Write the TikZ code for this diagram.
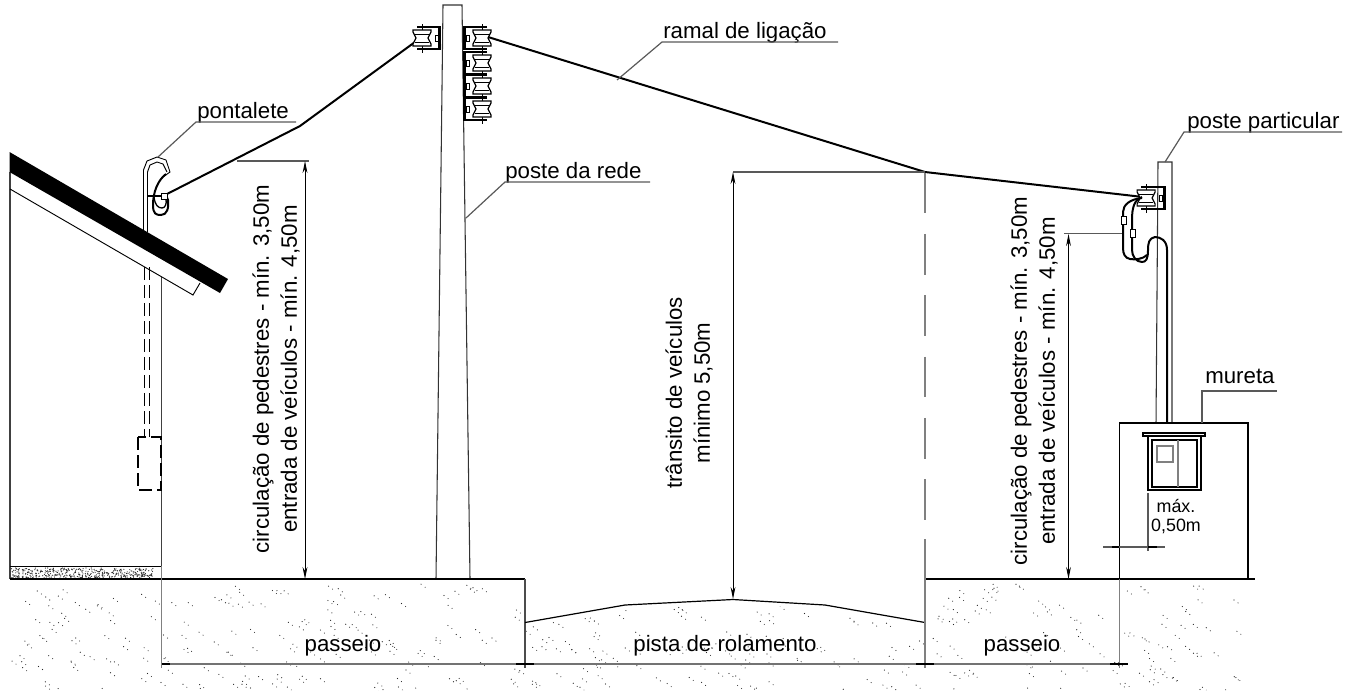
\documentclass[tikz,border=0pt]{standalone}
\usepackage{fontspec}
\setmainfont{Liberation Sans}
\usetikzlibrary{arrows.meta}
\tikzset{
  wire/.style={line width=1.5pt,line join=round},
  thin line/.style={line width=0.9pt,black!65},
  dim/.style={line width=0.7pt,{Stealth[length=9pt,width=3.6pt]}-{Stealth[length=9pt,width=3.6pt]}},
  lbl/.style={font=\fontsize{16.7pt}{20pt}\selectfont,inner sep=0pt},
  dimlbl/.style={lbl,rotate=90,align=center},
  small lbl/.style={font=\fontsize{13.4pt}{16pt}\selectfont,inner sep=0pt},
  spool/.pic={
    \draw [line width=0.7pt] (0,-13) -- (0,16);
    \draw [line width=0.9pt] (-5,-10) -- (17,-10) -- (17,12) -- (-5,12);
    \draw [line width=2.2pt] (18,-11) -- (18,13);
    \draw [line width=0.7pt] (13,-2) rectangle (16,4);
    \draw [line width=0.9pt,fill=white] (-9,-7) -- (9,-7) -- (9,-5) -- (6,1) -- (9,7) -- (9,9) -- (-9,9) -- (-9,7) -- (-6,1) -- (-9,-5) -- cycle;
    \draw [line width=0.6pt] (-7,-3) -- (7,-3) (-7,5) -- (7,5);
  },
  tick/.style={line width=2pt},
}
\begin{document}
\begin{tikzpicture}[x=0.75pt,y=-0.75pt]
  \useasboundingbox (0,0) rectangle (1358,690);
  % ground stipple
  \pgfmathsetseed{41}
  \begin{scope}
    \clip (10,582) -- (525,582) -- (525,626) -- (625,609) -- (733,604) -- (825,609) -- (925,626) -- (925,582) -- (1358,582) -- (1358,690) -- (10,690) -- cycle;
    \foreach \i in {1,...,430} {
      \pgfmathsetmacro{\px}{12+rnd*1225}
      \pgfmathsetmacro{\py}{584+rnd*106}
      \fill [black!85] (\px,\py) circle [radius=0.45pt];
      \fill [black!85] (\px+4,\py+3) circle [radius=0.4pt];
    }
  \end{scope}
  \foreach \i in {1,...,420} {
    \pgfmathsetmacro{\px}{11+rnd*142}
    \pgfmathsetmacro{\py}{568+rnd*10}
    \fill [black!85] (\px,\py) circle [radius=0.45pt];
  }
  % house
  \draw [line width=0.8pt,black!75] (10,172) -- (10,579);
  \draw [line width=0.8pt,black!75] (161.5,277) -- (161.5,566);
  \draw [line width=0.7pt] (10,566) -- (162,566);
  \draw [line width=0.7pt] (10,189) -- (193,295) -- (200,283);
  % pontalete
  \draw [line width=0.7pt,dash pattern=on 10pt off 3.5pt] (144,267) -- (144,437);
  \draw [line width=0.7pt,dash pattern=on 10pt off 3.5pt] (149,267) -- (149,437);
  \draw [line width=0.8pt,dash pattern=on 10pt off 3.5pt] (138,437) rectangle (161,490);
  \draw [line width=0.7pt] (143.5,232) -- (143.5,170) -- (147,161) -- (157,157) -- (166,160) -- (170,172) -- (163,177);
  \draw [line width=0.7pt] (147.5,232) -- (147.5,172) -- (150,165) -- (157,162) -- (163,164) -- (167,172);
  \draw [line width=1.5pt] (166,174) .. controls (158,180) and (153,192) .. (153,205) .. controls (153,214) and (156,215) .. (161,215) .. controls (167,215) and (169,208) .. (168,200) -- (166,195);
  \draw [line width=1pt] (154,197) .. controls (155,205) and (158,208) .. (162,208) .. controls (165,208) and (167,204) .. (166,199);
  \draw [line width=1.2pt] (148,196) -- (162,196);
  \draw [line width=0.5pt,fill=white] (161,193) rectangle (167,199);
  % roof
  \fill (9.5,152) -- (228,279) -- (220,293) -- (9.5,172) -- cycle;
  % wires
  \draw [wire] (167,194) -- (300,126) -- (415,42);
  \draw [wire] (488,37) -- (925,172) -- (1143,197);
  % poste da rede
  \draw [line width=0.8pt,black!80] (436,579) -- (443,5) -- (462,5) -- (470,579);
  \pic at (422,37) {spool};
  \foreach \yy in {37,62,85,108} {
    \pic [xscale=-1] at (482,\yy) {spool};
  }
  % poste particular
  \draw [line width=0.8pt,black!80] (1156,423) -- (1158,162) -- (1172,162) -- (1172,423);
  \begin{scope}[scale=0.62,shift={(1146/0.62,197/0.62)}]
    \pic at (0,0) {spool};
  \end{scope}
  \draw [wire] (1167,423) -- (1167,250) .. controls (1167,240) and (1160,237) .. (1155,237) .. controls (1149,238) and (1148,243) .. (1148,250) .. controls (1148,259) and (1146,262) .. (1142,262) .. controls (1136,262) and (1132,256) .. (1132,250) -- (1132,220) .. controls (1132,208) and (1134,200) .. (1142,197);
  \draw [wire] (1147,255) .. controls (1143,259) and (1135,260) .. (1130,259) .. controls (1125,258) and (1123,254) .. (1123,248) -- (1123,212) .. controls (1123,205) and (1130,199) .. (1142,198);
  \draw [line width=0.6pt,fill=white] (1121,216) rectangle (1126,224);
  \draw [line width=0.6pt,fill=white] (1130,229) rectangle (1135,237);
  % mureta
  \draw [line width=0.8pt] (1119.5,423) rectangle (1248,579);
  \draw [line width=0.9pt,fill=white] (1143,433) rectangle (1205,436);
  \draw [line width=0.8pt] (1148,436) rectangle (1201,490);
  \draw [line width=0.9pt] (1152,440) rectangle (1197,487);
  \draw [line width=0.8pt,gray] (1178,440) -- (1178,487);
  \draw [line width=0.8pt,gray] (1157,446) rectangle (1173,462);
  % ground lines
  \draw [line width=0.9pt] (10,579) -- (525,579);
  \draw [line width=0.8pt,black!70] (525,579) -- (525,668);
  \draw [line width=0.8pt,gray] (161.5,566) -- (161.5,668);
  \draw [line width=0.9pt] (525,622.5) -- (625,605) -- (733,599.5) -- (825,605) -- (925,622.5);
  \draw [line width=0.9pt] (925,579) -- (1255,579);
  \draw [line width=0.8pt,gray] (925,539) -- (925,668);
  \draw [line width=0.8pt,gray] (1119.5,579) -- (1119.5,668);
  \draw [line width=0.8pt,gray,dash pattern=on 30.7pt off 15.3pt] (925,172.5) -- (925,539);
  % dimensions along the ground
  \draw [line width=0.9pt,black!55] (162,664) -- (1119,664);
  \foreach \xx in {525,925,1119} {
    \draw [tick] (\xx-9,664) -- (\xx+9,664);
  }
  \draw [tick] (162,664) -- (170,664);
  \node [lbl] (passeioa) at (343,646) {passeio};
  \node [lbl] (pista) at (725,646) {pista de rolamento};
  \node [lbl] (passeiob) at (1022,646) {passeio};
  % heights
  \draw [thin line] (237,161) -- (309,161);
  \draw [dim] (305,161) -- (305,579);
  \node [dimlbl] (alturaa) at (276,369) {circulação de pedestres - mín. 3,50m\\[1pt]entrada de veículos - mín. 4,50m};
  \draw [thin line] (733,172) -- (925,172);
  \draw [dim] (733,172) -- (733,599);
  \node [dimlbl] (transito) at (689,393) {trânsito de veículos\\[1pt]mínimo 5,50m};
  \draw [thin line] (1064,233.5) -- (1122,233.5);
  \draw [dim] (1068.5,234) -- (1068.5,579);
  \node [dimlbl] (alturab) at (1034,381) {circulação de pedestres - mín. 3,50m\\[1pt]entrada de veículos - mín. 4,50m};
  % max
  \draw [thin line] (1148,493) -- (1148,551);
  \draw [thin line] (1103,547) -- (1165,547);
  \draw [tick] (1112,547) -- (1119,547) (1148,547) -- (1157,547);
  \node [small lbl] (maxa) at (1176,506) {máx.};
  \node [small lbl] (maxb) at (1176,526) {0,50m};
  % labels
  \node [lbl,anchor=base west] (ramal) at (663,38) {ramal de ligação};
  \draw [thin line] (617,80) -- (662,42) -- (838,42);
  \node [lbl,anchor=base west] (poste) at (505,178) {poste da rede};
  \draw [thin line] (466,218) -- (505,182) -- (650,182);
  \node [lbl,anchor=base west] (pontalete) at (197,118) {pontalete};
  \draw [thin line] (158,157) -- (196,122) -- (296,122);
  \node [lbl,anchor=base west] (particular) at (1187,128) {poste particular};
  \draw [thin line] (1165,162) -- (1184,132) -- (1342,132);
  \node [lbl,anchor=base west] (mureta) at (1205,383) {mureta};
  \draw [thin line] (1202,423) -- (1202,391) -- (1277,391);
\end{tikzpicture}
\end{document}
